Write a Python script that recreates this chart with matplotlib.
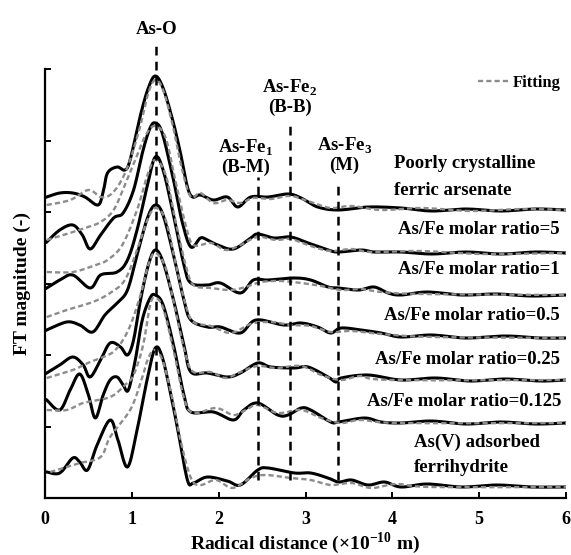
import numpy as np
import matplotlib
matplotlib.use('Agg')
import matplotlib.pyplot as plt

plt.rcParams['font.family'] = 'Liberation Serif'
plt.rcParams['font.weight'] = 'bold'
plt.rcParams['axes.labelweight'] = 'bold'
plt.rcParams['mathtext.fontset'] = 'custom'
plt.rcParams['mathtext.rm'] = 'Liberation Serif:bold'
plt.rcParams['mathtext.bf'] = 'Liberation Serif:bold'

# FT magnitudes (stacked, arbitrary units)
# 1) poorly crystalline ferric arsenate
r_pcfa = [0.02, 0.17, 0.32, 0.46, 0.61, 0.67, 0.72, 0.83, 0.92, 0.98, 1.10, 1.19, 1.27, 1.36, 1.47,
          1.56, 1.64, 1.70, 1.79, 1.94, 2.10, 2.22, 2.37, 2.57, 2.80, 2.95, 3.14, 3.38, 3.72, 4.10,
          4.45, 4.85, 5.25, 5.65, 6.0]
ft_pcfa = [301, 305, 305, 301, 293, 306, 325, 331, 328, 338, 383, 410, 422, 410, 378,
           345, 311, 301, 303, 298, 301, 291, 301, 301, 304, 300, 291, 288, 291, 290,
           287, 289, 287, 289, 288]
fr_pcfa = [0.02, 0.29, 0.50, 0.64, 0.75, 0.87, 0.98, 1.10, 1.19, 1.27, 1.36, 1.47, 1.58, 1.68, 1.79,
           1.94, 2.10, 2.25, 2.40, 2.60, 2.83, 3.06, 3.29, 3.53, 3.87, 4.34, 4.91, 5.49, 6.0]
fit_pcfa = [293, 298, 308, 301, 303, 316, 338, 373, 405, 418, 408, 373, 328, 301, 305,
            295, 298, 295, 300, 299, 302, 296, 290, 292, 288, 290, 287, 289, 288]

# 2) As/Fe = 5
r_5 = [0.02, 0.17, 0.32, 0.43, 0.52, 0.64, 0.79, 0.90, 1.02, 1.13, 1.21, 1.27, 1.35, 1.48, 1.58,
       1.68, 1.79, 1.87, 1.99, 2.17, 2.37, 2.45, 2.64, 2.83, 3.03, 3.26, 3.38, 3.64, 3.79, 4.10,
       4.45, 4.85, 5.25, 5.65, 6.0]
ft_5 = [256, 268, 273, 263, 249, 263, 280, 285, 308, 348, 370, 375, 365, 318, 276,
        251, 260, 258, 253, 249, 260, 264, 260, 261, 255, 248, 246, 248, 246, 246,
        244, 246, 244, 246, 245]
fr_5 = [0.02, 0.25, 0.46, 0.64, 0.79, 0.92, 1.04, 1.16, 1.27, 1.39, 1.50, 1.62, 1.71, 1.91, 2.08,
        2.25, 2.45, 2.66, 2.83, 3.06, 3.29, 3.53, 3.76, 4.34, 5.03, 6.0]
fit_5 = [258, 264, 270, 276, 288, 313, 338, 363, 372, 360, 318, 273, 253, 255, 248,
         253, 261, 258, 259, 252, 247, 249, 246, 247, 244, 245]

# 3) As/Fe = 1
r_1 = [0.02, 0.17, 0.32, 0.52, 0.64, 0.83, 0.95, 1.06, 1.18, 1.27, 1.36, 1.48, 1.60, 1.68, 1.87,
       2.02, 2.25, 2.40, 2.57, 2.87, 3.06, 3.26, 3.38, 3.61, 3.79, 3.95, 4.10, 4.40, 4.80, 5.20,
       5.60, 6.0]
ft_1 = [210, 218, 223, 210, 223, 226, 238, 268, 313, 341, 328, 283, 233, 215, 213,
        215, 205, 218, 218, 220, 218, 211, 210, 208, 211, 205, 203, 206, 203, 204,
        202, 203]
fr_1 = [0.02, 0.32, 0.58, 0.72, 0.89, 1.06, 1.18, 1.27, 1.39, 1.50, 1.62, 1.71, 1.91, 2.14, 2.31,
        2.49, 2.72, 2.95, 3.18, 3.41, 3.64, 3.87, 4.34, 6.0]
fit_1 = [226, 226, 233, 238, 253, 288, 323, 338, 323, 278, 233, 213, 210, 208, 211,
         216, 217, 215, 212, 208, 209, 206, 204, 203]

# 4) As/Fe = 0.5
r_05 = [0.02, 0.25, 0.40, 0.55, 0.69, 0.83, 0.95, 1.06, 1.18, 1.27, 1.36, 1.48, 1.60, 1.68, 1.87,
        2.02, 2.25, 2.43, 2.75, 2.95, 3.14, 3.29, 3.41, 3.64, 3.87, 4.10, 4.45, 4.85, 5.30, 5.70,
        6.0]
ft_05 = [168, 176, 173, 166, 183, 195, 208, 243, 280, 293, 283, 243, 198, 178, 171,
         171, 165, 178, 173, 175, 171, 165, 170, 168, 165, 161, 163, 160, 162, 160,
         160]
fr_05 = [0.02, 0.25, 0.55, 0.75, 0.92, 1.06, 1.18, 1.27, 1.39, 1.50, 1.62, 1.71, 1.91, 2.14, 2.37,
         2.60, 2.83, 3.06, 3.29, 3.53, 3.87, 4.45, 6.0]
fit_05 = [181, 188, 196, 205, 218, 248, 278, 290, 278, 236, 193, 176, 172, 165, 174,
          176, 173, 172, 166, 167, 164, 161, 160]

# 5) As/Fe = 0.25
r_025 = [0.02, 0.17, 0.32, 0.44, 0.52, 0.64, 0.75, 0.87, 0.95, 1.02, 1.10, 1.19, 1.27, 1.36, 1.48,
         1.60, 1.68, 1.87, 2.10, 2.25, 2.45, 2.60, 2.87, 3.03, 3.26, 3.35, 3.41, 3.72, 4.10, 4.50,
         4.90, 5.30, 5.70, 6.0]
ft_025 = [125, 133, 141, 133, 121, 138, 155, 151, 143, 158, 198, 233, 248, 236, 198,
          153, 126, 125, 121, 125, 135, 131, 130, 131, 121, 116, 120, 123, 118, 120,
          117, 119, 117, 118]
fr_025 = [0.02, 0.32, 0.52, 0.67, 0.81, 0.96, 1.10, 1.19, 1.27, 1.39, 1.50, 1.62, 1.71, 1.91, 2.08,
          2.25, 2.45, 2.66, 2.95, 3.18, 3.41, 3.64, 3.99, 6.0]
fit_025 = [120, 128, 136, 141, 148, 168, 203, 233, 245, 230, 188, 143, 126, 126, 120,
           126, 132, 130, 132, 123, 118, 122, 118, 118]

# 6) As/Fe = 0.125
r_0125 = [0.02, 0.17, 0.29, 0.40, 0.50, 0.58, 0.67, 0.75, 0.83, 0.90, 0.96, 1.04, 1.12, 1.21, 1.27,
          1.36, 1.48, 1.60, 1.68, 1.94, 2.17, 2.29, 2.45, 2.68, 2.80, 2.95, 3.06, 3.29, 3.38, 3.68,
          3.87, 4.10, 4.45, 4.85, 5.25, 5.65, 6.0]
ft_0125 = [98, 88, 108, 124, 103, 80, 103, 118, 121, 113, 108, 138, 178, 200, 203,
           193, 153, 103, 86, 86, 78, 88, 95, 83, 83, 90, 88, 76, 76, 80,
           76, 75, 77, 74, 76, 74, 75]
fr_0125 = [0.02, 0.25, 0.44, 0.75, 0.92, 1.02, 1.13, 1.21, 1.27, 1.36, 1.48, 1.60, 1.71, 1.97, 2.17,
           2.31, 2.45, 2.68, 2.95, 3.18, 3.41, 3.64, 4.10, 6.0]
fit_0125 = [88, 88, 95, 101, 113, 123, 153, 193, 200, 190, 148, 100, 85, 90, 83,
            88, 93, 85, 88, 80, 75, 78, 75, 75]

# 7) As(V) adsorbed ferrihydrite
r_fh = [0.02, 0.17, 0.32, 0.40, 0.49, 0.60, 0.75, 0.84, 0.95, 1.06, 1.18, 1.27, 1.35, 1.45, 1.53,
        1.64, 1.71, 1.87, 2.10, 2.25, 2.45, 2.57, 2.87, 3.06, 3.26, 3.38, 3.53, 3.72, 3.91, 4.10,
        4.40, 4.80, 5.20, 5.60, 6.0]
ft_fh = [26, 25, 40, 36, 28, 53, 78, 58, 31, 68, 120, 150, 141, 103, 68,
         18, 15, 21, 17, 13, 28, 30, 25, 25, 20, 16, 18, 13, 16, 11,
         14, 11, 13, 11, 11]
fr_fh = [0.06, 0.25, 0.40, 0.64, 0.75, 0.98, 1.10, 1.19, 1.27, 1.36, 1.47, 1.56, 1.68, 1.79, 1.97,
         2.16, 2.37, 2.54, 2.83, 3.06, 3.29, 3.53, 3.76, 4.05, 4.45, 6.0]
fit_fh = [26, 31, 35, 41, 61, 88, 115, 140, 148, 136, 98, 58, 20, 13, 18,
          10, 20, 23, 20, 18, 13, 15, 10, 14, 11, 11]

# coordination shells: position (Angstrom) and extent of the marker line
shell_r = [1.28, 2.45, 2.82, 3.38]
shell_top = [453, 321, 378, 318]
shell_bottom = [98, 18, 18, 18]

samples = [
    (r_pcfa, ft_pcfa, fr_pcfa, fit_pcfa),
    (r_5, ft_5, fr_5, fit_5),
    (r_1, ft_1, fr_1, fit_1),
    (r_05, ft_05, fr_05, fit_05),
    (r_025, ft_025, fr_025, fit_025),
    (r_0125, ft_0125, fr_0125, fit_0125),
    (r_fh, ft_fh, fr_fh, fit_fh),
]


def smooth(x, y, n=10):
    """Catmull-Rom curve through the read points, just for drawing"""
    p = np.column_stack([x, y]).astype(float)
    p = np.vstack([p[0], p, p[-1]])
    t = np.linspace(0, 1, n, endpoint=False)[:, None]
    out = []
    for i in range(1, len(p) - 2):
        p0, p1, p2, p3 = p[i - 1], p[i], p[i + 1], p[i + 2]
        out.append(0.5 * (2 * p1 + (p2 - p0) * t + (2 * p0 - 5 * p1 + 4 * p2 - p3) * t ** 2
                          + (3 * p1 - p0 - 3 * p2 + p3) * t ** 3))
    out.append(p[-2][None, :])
    out = np.vstack(out)
    return out[:, 0], out[:, 1]


fig = plt.figure(figsize=(5.71, 5.55), dpi=100)
ax = fig.add_axes([45 / 571, 57 / 555, 521 / 571, 429 / 555])

for i, (r, ft, fr, fit) in enumerate(samples):
    ax.plot(*smooth(r, ft), color='black', lw=2.2, solid_joinstyle='round', zorder=3)
    ax.plot(*smooth(fr, fit), color='#8c8c8c', lw=1.7, linestyle=(0, (2.2, 1.3)), zorder=4,
            label='Fitting' if i == 0 else None)

ax.vlines(shell_r, shell_bottom, shell_top, colors='black', lw=1.8,
          linestyles=[(0, (3.5, 2.5))], clip_on=False, zorder=5)

# shell labels
fs = 13.5
ax.text(1.28, 468, 'As-O', ha='center', va='center', fontsize=fs)
ax.text(2.31, 350, r'As-Fe$_{1}$', ha='center', va='center', fontsize=fs)
ax.text(2.31, 331, '(B-M)', ha='center', va='center', fontsize=fs)
ax.text(2.82, 410, r'As-Fe$_{2}$', ha='center', va='center', fontsize=fs)
ax.text(2.82, 391, '(B-B)', ha='center', va='center', fontsize=fs)
ax.text(3.45, 352, r'As-Fe$_{3}$', ha='center', va='center', fontsize=fs)
ax.text(3.45, 333, '(M)', ha='center', va='center', fontsize=fs)

# sample labels
ax.text(4.02, 335, 'Poorly crystalline', ha='left', va='center', fontsize=fs)
ax.text(4.02, 308, 'ferric arsenate', ha='left', va='center', fontsize=fs)
ax.text(5.93, 269, 'As/Fe molar ratio=5', ha='right', va='center', fontsize=fs)
ax.text(5.93, 228, 'As/Fe molar ratio=1', ha='right', va='center', fontsize=fs)
ax.text(5.93, 183, 'As/Fe molar ratio=0.5', ha='right', va='center', fontsize=fs)
ax.text(5.93, 138, 'As/Fe molar ratio=0.25', ha='right', va='center', fontsize=fs)
ax.text(5.95, 96, 'As/Fe molar ratio=0.125', ha='right', va='center', fontsize=fs)
ax.text(4.25, 56, 'As(V) adsorbed', ha='left', va='center', fontsize=fs)
ax.text(4.25, 31, 'ferrihydrite', ha='left', va='center', fontsize=fs)

ax.legend(loc='center right', bbox_to_anchor=(0.99, 0.967), frameon=False,
          handlelength=1.9, handletextpad=0.2, borderpad=0, borderaxespad=0,
          prop={'weight': 'bold', 'size': 12})

ax.set_xlim(0, 6)
ax.set_ylim(0, 429)
ax.set_xticks(range(7))
ax.set_yticks(np.linspace(0, 429, 7))
ax.set_yticklabels([])
ax.tick_params(direction='in', length=4, width=1.4, labelsize=13, pad=9)
for lbl in ax.get_xticklabels():
    lbl.set_fontweight('bold')
ax.spines['top'].set_visible(False)
ax.spines['right'].set_visible(False)
ax.spines['left'].set_linewidth(1.6)
ax.spines['bottom'].set_linewidth(1.6)

ax.set_xlabel(r'Radical distance (×10$^{-10}$ m)', fontsize=14, labelpad=2)
ax.set_ylabel('FT magnitude (-)', fontsize=14, labelpad=1)

fig.savefig('out.png', dpi=100)
